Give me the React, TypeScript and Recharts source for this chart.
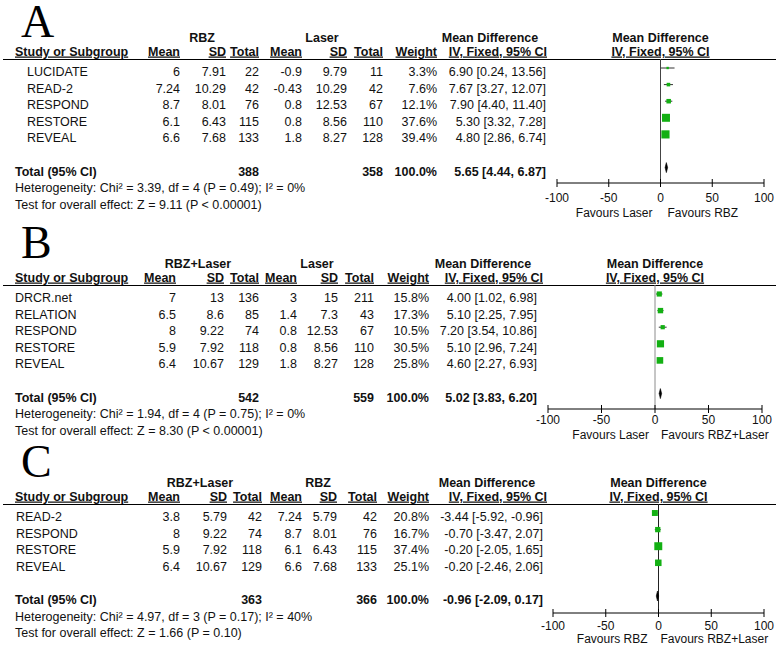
import React from 'react';
import { ComposedChart, Scatter, XAxis, YAxis, ErrorBar, ReferenceLine } from 'recharts';

// ---------- DATA ----------
// Panel A: RBZ vs Laser
const studiesA = ['LUCIDATE', 'READ-2', 'RESPOND', 'RESTORE', 'REVEAL'];
const expMeanA = [6, 7.24, 8.7, 6.1, 6.6];
const expSdA = [7.91, 10.29, 8.01, 6.43, 7.68];
const expNA = [22, 42, 76, 115, 133];
const ctlMeanA = [-0.9, -0.43, 0.8, 0.8, 1.8];
const ctlSdA = [9.79, 10.29, 12.53, 8.56, 8.27];
const ctlNA = [11, 42, 67, 110, 128];
const weightA = [3.3, 7.6, 12.1, 37.6, 39.4];
const mdA = [6.9, 7.67, 7.9, 5.3, 4.8];
const loA = [0.24, 3.27, 4.4, 3.32, 2.86];
const hiA = [13.56, 12.07, 11.4, 7.28, 6.74];
const totalA = [5.65, 4.44, 6.87];
const totalNA = [388, 358];
const hetA = 'Heterogeneity: Chi\u00b2 = 3.39, df = 4 (P = 0.49); I\u00b2 = 0%';
const testA = 'Test for overall effect: Z = 9.11 (P < 0.00001)';
const groupsA = ['RBZ', 'Laser'];
const favoursA = ['Favours Laser', 'Favours RBZ'];

// Panel B: RBZ+Laser vs Laser
const studiesB = ['DRCR.net', 'RELATION', 'RESPOND', 'RESTORE', 'REVEAL'];
const expMeanB = [7, 6.5, 8, 5.9, 6.4];
const expSdB = [13, 8.6, 9.22, 7.92, 10.67];
const expNB = [136, 85, 74, 118, 129];
const ctlMeanB = [3, 1.4, 0.8, 0.8, 1.8];
const ctlSdB = [15, 7.3, 12.53, 8.56, 8.27];
const ctlNB = [211, 43, 67, 110, 128];
const weightB = [15.8, 17.3, 10.5, 30.5, 25.8];
const mdB = [4.0, 5.1, 7.2, 5.1, 4.6];
const loB = [1.02, 2.25, 3.54, 2.96, 2.27];
const hiB = [6.98, 7.95, 10.86, 7.24, 6.93];
const totalB = [5.02, 3.83, 6.2];
const totalNB = [542, 559];
const hetB = 'Heterogeneity: Chi\u00b2 = 1.94, df = 4 (P = 0.75); I\u00b2 = 0%';
const testB = 'Test for overall effect: Z = 8.30 (P < 0.00001)';
const groupsB = ['RBZ+Laser', 'Laser'];
const favoursB = ['Favours Laser', 'Favours RBZ+Laser'];

// Panel C: RBZ+Laser vs RBZ
const studiesC = ['READ-2', 'RESPOND', 'RESTORE', 'REVEAL'];
const expMeanC = [3.8, 8, 5.9, 6.4];
const expSdC = [5.79, 9.22, 7.92, 10.67];
const expNC = [42, 74, 118, 129];
const ctlMeanC = [7.24, 8.7, 6.1, 6.6];
const ctlSdC = [5.79, 8.01, 6.43, 7.68];
const ctlNC = [42, 76, 115, 133];
const weightC = [20.8, 16.7, 37.4, 25.1];
const mdC = [-3.44, -0.7, -0.2, -0.2];
const loC = [-5.92, -3.47, -2.05, -2.46];
const hiC = [-0.96, 2.07, 1.65, 2.06];
const totalC = [-0.96, -2.09, 0.17];
const totalNC = [363, 366];
const hetC = 'Heterogeneity: Chi\u00b2 = 4.97, df = 3 (P = 0.17); I\u00b2 = 40%';
const testC = 'Test for overall effect: Z = 1.66 (P = 0.10)';
const groupsC = ['RBZ+Laser', 'RBZ'];
const favoursC = ['Favours RBZ', 'Favours RBZ+Laser'];

const axisTicks = [-100, -50, 0, 50, 100];
const headerCols = ['Mean', 'SD', 'Total', 'Mean', 'SD', 'Total', 'Weight'];

// ---------- LAYOUT / STYLE ----------
const W = 779;
const H = 649;
const FONT = '"Liberation Sans", Arial, Helvetica, sans-serif';
const SERIF = '"Liberation Serif", "Times New Roman", serif';
const FS = 12.5;
const ROW_H = 16.6;
const TOP_PAD = 9;
const TEXT_OFF = 3.5;
const GREEN = '#13b013';
const INK = '#111';

type Layout = {
  lineY: number; axisY: number; letterBase: number; nameX: number;
  plotL: number; plotR: number; cols: number[]; ivRight: number;
  grp: number[]; mdHdr: number; zeroColor: string;
  favGap: number[]; tickDy: number; favDy: number;
};

type Panel = {
  letter: string; studies: string[];
  expMean: number[]; expSd: number[]; expN: number[];
  ctlMean: number[]; ctlSd: number[]; ctlN: number[];
  weight: number[]; md: number[]; lo: number[]; hi: number[];
  total: number[]; totalN: number[]; het: string; test: string;
  groups: string[]; favours: string[]; L: Layout;
};

const panels: Panel[] = [
  {
    letter: 'A', studies: studiesA, expMean: expMeanA, expSd: expSdA, expN: expNA,
    ctlMean: ctlMeanA, ctlSd: ctlSdA, ctlN: ctlNA, weight: weightA, md: mdA, lo: loA, hi: hiA,
    total: totalA, totalN: totalNA, het: hetA, test: testA, groups: groupsA, favours: favoursA,
    L: {
      lineY: 59, axisY: 183, letterBase: 37, nameX: 27, plotL: 557, plotR: 764,
      cols: [180, 226, 259, 302, 347, 383, 437, 546], ivRight: 547, grp: [202, 322], mdHdr: 490,
      zeroColor: '#444', favGap: [8, 7], tickDy: 14.5, favDy: 29.5,
    },
  },
  {
    letter: 'B', studies: studiesB, expMean: expMeanB, expSd: expSdB, expN: expNB,
    ctlMean: ctlMeanB, ctlSd: ctlSdB, ctlN: ctlNB, weight: weightB, md: mdB, lo: loB, hi: hiB,
    total: totalB, totalN: totalNB, het: hetB, test: testB, groups: groupsB, favours: favoursB,
    L: {
      lineY: 285, axisY: 409, letterBase: 258, nameX: 15, plotL: 548, plotR: 762,
      cols: [176, 224, 259, 297, 338, 374, 429, 537], ivRight: 543, grp: [198, 317], mdHdr: 483,
      zeroColor: '#8c8c8c', favGap: [6, 6], tickDy: 11, favDy: 26,
    },
  },
  {
    letter: 'C', studies: studiesC, expMean: expMeanC, expSd: expSdC, expN: expNC,
    ctlMean: ctlMeanC, ctlSd: ctlSdC, ctlN: ctlNC, weight: weightC, md: mdC, lo: loC, hi: hiC,
    total: totalC, totalN: totalNC, het: hetC, test: testC, groups: groupsC, favours: favoursC,
    L: {
      lineY: 504, axisY: 613, letterBase: 477, nameX: 16, plotL: 553, plotR: 764,
      cols: [180, 227, 262, 302, 337, 377, 429, 543], ivRight: 547, grp: [200, 318], mdHdr: 487,
      zeroColor: '#222', favGap: [11, 2], tickDy: 13, favDy: 25.5,
    },
  },
];

const fmtCI = (m: number, l: number, h: number) => `${m.toFixed(2)} [${l.toFixed(2)}, ${h.toFixed(2)}]`;

// ---------- TEXT ----------
function T(props: any) {
  const { x, y, anchor, bold, underline, children, size } = props;
  return (
    <text
      x={x}
      y={y}
      textAnchor={anchor || 'start'}
      fontFamily={FONT}
      fontSize={size || FS}
      fontWeight={bold ? 'bold' : 'normal'}
      fill={INK}
      style={underline ? { textDecoration: 'underline' } : undefined}
    >
      {children}
    </text>
  );
}

function PanelText({ p }: { p: Panel }) {
  const L = p.L;
  const center = (i: number) => L.lineY + TOP_PAD + i * ROW_H + TEXT_OFF;
  const base = (i: number) => center(i) + 4.5;
  const nS = p.studies.length;
  const tIdx = nS + 1;
  const zeroX = (L.plotL + L.plotR) / 2;
  const h2 = L.lineY - 3.5;
  const h1 = L.lineY - 17;
  const favY = L.axisY + L.favDy + 4.3;
  return (
    <g>
      <text x={21} y={L.letterBase} fontFamily={SERIF} fontSize={46} fill="#000">{p.letter}</text>
      {/* header row 1 */}
      <T x={L.grp[0]} y={h1} anchor="middle" bold>{p.groups[0]}</T>
      <T x={L.grp[1]} y={h1} anchor="middle" bold>{p.groups[1]}</T>
      <T x={L.mdHdr} y={h1} anchor="middle" bold>Mean Difference</T>
      <T x={zeroX} y={h1} anchor="middle" bold>Mean Difference</T>
      {/* header row 2 */}
      <T x={15} y={h2} bold underline>Study or Subgroup</T>
      {headerCols.map((h, k) => (
        <T key={k} x={L.cols[k]} y={h2} anchor="end" bold underline>{h}</T>
      ))}
      <T x={L.ivRight} y={h2} anchor="end" bold underline>IV, Fixed, 95% CI</T>
      <T x={zeroX} y={h2} anchor="middle" bold underline>IV, Fixed, 95% CI</T>
      <line x1={3} x2={776} y1={L.lineY + 0.5} y2={L.lineY + 0.5} stroke="#000" strokeWidth={1.2} />
      {/* study rows */}
      {p.studies.map((s, i) => {
        const vals = [
          String(p.expMean[i]), String(p.expSd[i]), String(p.expN[i]),
          String(p.ctlMean[i]), String(p.ctlSd[i]), String(p.ctlN[i]),
          `${p.weight[i].toFixed(1)}%`, fmtCI(p.md[i], p.lo[i], p.hi[i]),
        ];
        return (
          <g key={s}>
            <T x={L.nameX} y={base(i)}>{s}</T>
            {vals.map((v, k) => (
              <T key={k} x={L.cols[k]} y={base(i)} anchor="end">{v}</T>
            ))}
          </g>
        );
      })}
      {/* total row */}
      <T x={15} y={base(tIdx)} bold>Total (95% CI)</T>
      <T x={L.cols[2]} y={base(tIdx)} anchor="end" bold>{String(p.totalN[0])}</T>
      <T x={L.cols[5]} y={base(tIdx)} anchor="end" bold>{String(p.totalN[1])}</T>
      <T x={L.cols[6]} y={base(tIdx)} anchor="end" bold>100.0%</T>
      <T x={L.cols[7]} y={base(tIdx)} anchor="end" bold>{fmtCI(p.total[0], p.total[1], p.total[2])}</T>
      <T x={15} y={base(tIdx) + ROW_H}>{p.het}</T>
      <T x={15} y={base(tIdx) + 2 * ROW_H}>{p.test}</T>
      {/* favours labels */}
      <T x={zeroX - L.favGap[0]} y={favY} anchor="end" size={12}>{p.favours[0]}</T>
      <T x={zeroX + L.favGap[1]} y={favY} anchor="start" size={12}>{p.favours[1]}</T>
    </g>
  );
}

// ---------- CHART MARKS ----------
const SquareMark = (props: any) => {
  const { cx, cy, payload } = props;
  if (cx == null || cy == null) return <g />;
  const s = 1.3 * Math.sqrt(payload.w);
  return <rect x={cx - s / 2} y={cy - s / 2} width={s} height={s} fill={GREEN} />;
};

const NoMark = () => <g />;

const DiamondLine = (props: any) => {
  const pts = props.points;
  if (!pts || pts.length < 3) return <g />;
  const [a, b, c] = pts;
  const h = 5;
  return (
    <path
      d={`M${a.x},${a.y}L${b.x},${b.y - h}L${c.x},${c.y}L${b.x},${b.y + h}Z`}
      fill="#000"
      stroke="#000"
      strokeWidth={0.6}
    />
  );
};

function PanelChart({ p }: { p: Panel }) {
  const L = p.L;
  const plotH = L.axisY - L.lineY;
  const axisH = 50;
  const nS = p.studies.length;
  const studyData = p.studies.map((s, i) => ({
    name: s,
    x: p.md[i],
    row: i,
    w: p.weight[i],
    err: [p.md[i] - p.lo[i], p.hi[i] - p.md[i]],
  }));
  const diamondData = [
    { x: p.total[1], row: nS + 1 },
    { x: p.total[0], row: nS + 1 },
    { x: p.total[2], row: nS + 1 },
  ];
  const yDomain = [-TOP_PAD / ROW_H, (plotH - TOP_PAD) / ROW_H];
  const Tick = (tp: any) => {
    const { x, y, payload } = tp;
    return (
      <g>
        <line x1={x} x2={x} y1={y - 4} y2={y + 4} stroke="#000" strokeWidth={1} />
        <text x={x} y={y + L.tickDy + 4.3} textAnchor="middle" fontFamily={FONT} fontSize={12} fill={INK}>
          {payload.value}
        </text>
      </g>
    );
  };
  return (
    <div style={{ position: 'absolute', left: 0, top: L.lineY }}>
      <ComposedChart
        width={W}
        height={plotH + axisH}
        margin={{ top: 0, right: W - L.plotR, bottom: 0, left: L.plotL }}
      >
        <XAxis
          type="number"
          dataKey="x"
          domain={[-100, 100]}
          ticks={axisTicks}
          interval={0}
          allowDataOverflow
          tickSize={0}
          tickMargin={0}
          tick={Tick}
          height={axisH}
          axisLine={{ stroke: '#000', strokeWidth: 1 }}
        />
        <YAxis type="number" dataKey="row" domain={yDomain} reversed hide allowDataOverflow />
        <ReferenceLine x={0} stroke={L.zeroColor} strokeWidth={1} />
        <Scatter data={studyData} shape={SquareMark} isAnimationActive={false}>
          <ErrorBar dataKey="err" direction="x" width={0} stroke="#333" strokeWidth={1} isAnimationActive={false} />
        </Scatter>
        <Scatter data={diamondData} shape={NoMark} line={DiamondLine} lineType="joint" isAnimationActive={false} />
      </ComposedChart>
    </div>
  );
}

export default function App() {
  return (
    <div style={{ position: 'absolute', left: 0, top: 0, width: W, height: H, background: '#fff', overflow: 'hidden' }}>
      <svg width={W} height={H} style={{ position: 'absolute', left: 0, top: 0 }}>
        {panels.map((p) => (
          <PanelText key={p.letter} p={p} />
        ))}
      </svg>
      {panels.map((p) => (
        <PanelChart key={p.letter} p={p} />
      ))}
    </div>
  );
}
